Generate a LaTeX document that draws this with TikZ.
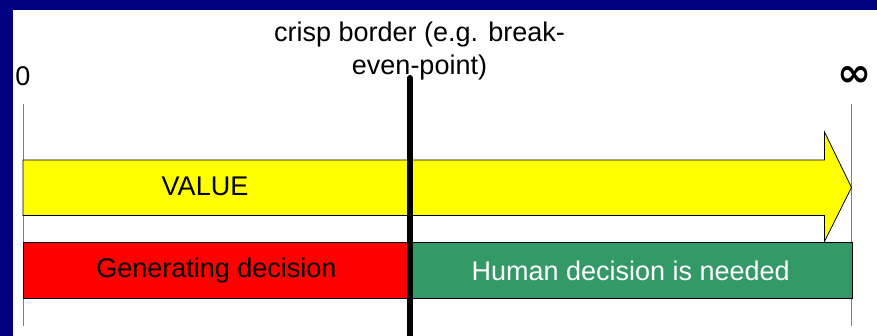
\documentclass[tikz,border=0pt]{standalone}
\usepackage{fontspec}
\setmainfont{Liberation Sans}
\newfontfamily\symfont{DejaVu Sans}
\definecolor{slidenavy}{HTML}{000080}
\definecolor{valueyellow}{HTML}{FFFF00}
\definecolor{genred}{HTML}{FF0000}
\definecolor{humangreen}{HTML}{339966}
\definecolor{axisgray}{HTML}{7F7F7F}
\tikzset{
  bigtext/.style={font=\fontsize{27}{33}\selectfont},
  band/.style={draw=black, line width=0.8pt, minimum height=56pt, inner sep=0pt,
               anchor=north west, bigtext},
  axisline/.style={draw=axisgray, line width=1pt},
  border/.style={draw=black, line width=6pt, line cap=round},
  plain/.style={inner sep=0pt, bigtext}
}
\begin{document}
\begin{tikzpicture}[x=1pt, y=-1pt]
  % slide background with white panel
  \fill[slidenavy] (0,0) rectangle (877,336);
  \fill[white] (13,10) rectangle (877,336);
  \useasboundingbox (0,0) rectangle (877,336);

  % scale ends
  \coordinate (zeroTop) at (23,104);
  \coordinate (zeroBot) at (23,326);
  \coordinate (infTop) at (851.5,104);
  \coordinate (infBot) at (851.5,326);
  \draw[axisline] (zeroTop) -- (zeroBot);
  \draw[axisline] (infTop) -- (infBot);
  \node[plain, anchor=base] (zero) at (23,86) {0};
  \node[inner sep=0pt] (inf) at (854.5,76.7)
    {\resizebox{34pt}{20pt}{\symfont\bfseries ∞}};

  % value arrow
  \draw[draw=black, line width=0.8pt, fill=valueyellow]
    (23,160) -- (824.5,160) -- (824.5,132) -- (851.5,187.5)
    -- (824.5,241.5) -- (824.5,215.5) -- (23,215.5) -- cycle;
  \node[plain] (value) at (205,186) {VALUE};

  % decision bands
  \node[band, fill=genred, minimum width=386pt] (gen) at (23,242)
    {Generating decision};
  \node[band, fill=humangreen, text=white, minimum width=442.5pt] (human) at (409,242)
    {Human decision is needed};

  % break-even border
  \node[plain, align=center, anchor=north] (crisp) at (419.5,22)
    {crisp border (e.g. break-\\even-point)};
  \coordinate (borderTop) at (410,78);
  \coordinate (borderBot) at (410,340);
  \draw[border] (borderTop) -- (borderBot);
\end{tikzpicture}
\end{document}
